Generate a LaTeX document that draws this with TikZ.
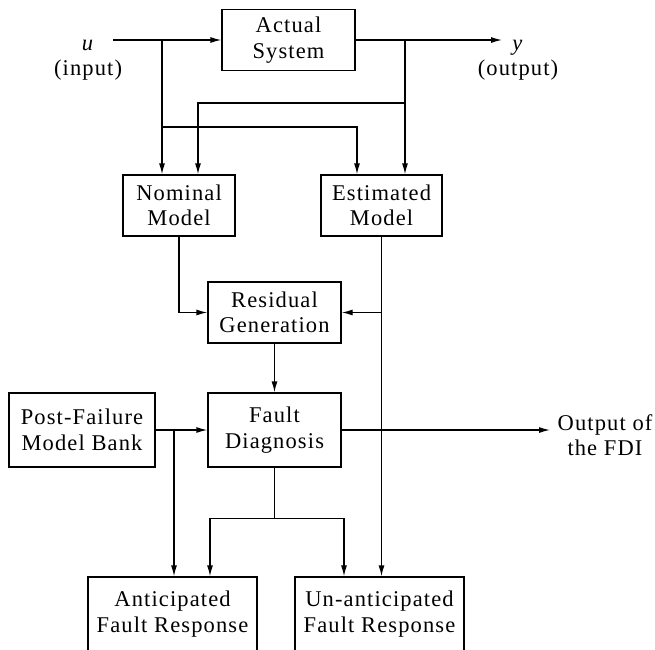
\documentclass[tikz,border=0pt]{standalone}
\usepackage{fontspec}
\setmainfont[LetterSpace=5]{Liberation Serif}
\usetikzlibrary{arrows.meta}

\tikzset{
	blk/.style={draw, line width=1.3pt, align=center, inner sep=0pt},
	lbl/.style={align=center, inner sep=0pt},
	arr/.style={line width=1.3pt, -{Latex[length=11pt,width=6pt]}},
	ln/.style={line width=1.3pt}
}

\begin{document}
\begin{tikzpicture}[x=1pt,y=-1pt,font=\fontsize{22.5}{25.5}\selectfont]
	\useasboundingbox (0,0) rectangle (655,649);
	\clip (0,0) rectangle (655,649);
	\node[blk, minimum width=133pt, minimum height=61pt] (act) at (288.5,40) {Actual\\System};
	\node[blk, minimum width=112pt, minimum height=61pt] (nom) at (179,205.5) {Nominal\\Model};
	\node[blk, minimum width=121pt, minimum height=61pt] (est) at (381.5,205.5) {Estimated\\Model};
	\node[blk, minimum width=133pt, minimum height=61pt] (res) at (274.5,312.5) {Residual\\Generation};
	\node[blk, minimum width=133pt, minimum height=74pt] (fd) at (274.5,430) {Fault\\Diagnosis};
	\node[blk, minimum width=146pt, minimum height=74pt] (pfm) at (82,430) {Post-Failure\\Model Bank};
	\node[blk, minimum width=169pt, minimum height=74pt] (ant) at (172.5,614) {Anticipated\\Fault Response};
	\node[blk, minimum width=169pt, minimum height=74pt] (una) at (379.5,614) {Un-anticipated\\Fault Response};
	\node[lbl] (u) at (88,60) {\textit{u}\\(input)};
	\node[lbl] (y) at (518,60) {\textit{y}\\(output)};
	\node[lbl] (fdi) at (605,435) {Output of\\the FDI};
	\coordinate (uin) at (113,40);
	\coordinate (yout) at (502,40);
	\coordinate (fdout) at (550,430);
	\coordinate (b1) at (162,40);
	\coordinate (b2) at (405,40);
	\coordinate (b3) at (174,430);
	\draw[arr] (uin) -- (act);
	\draw[arr] (act) -- (yout);
	\draw[arr] (b1) -- (b1 |- nom.north);
	\draw[arr] (b2) -- (b2 |- est.north);
	\draw[arr] (b2 |- 0,103) -| ([xshift=19pt]nom.north);
	\draw[arr] (b1 |- 0,127) -| ([xshift=-24.5pt]est.north);
	\draw[arr] (nom.south) |- (res.west);
	\draw[arr] (est.south) -- (est.south |- una.north);
	\draw[arr] (est.south |- res.east) -- (res.east);
	\draw[arr] (res) -- (fd);
	\draw[arr] (pfm) -- (fd);
	\draw[arr] (b3) -- (b3 |- ant.north);
	\draw[arr] (fd) -- (fdout);
	\draw[ln] (fd.south) -- ++(0,51) coordinate (b4);
	\draw[arr] (b4) -| ([xshift=37.5pt]ant.north);
	\draw[arr] (b4) -| ([xshift=-35.5pt]una.north);
\end{tikzpicture}
\end{document}
